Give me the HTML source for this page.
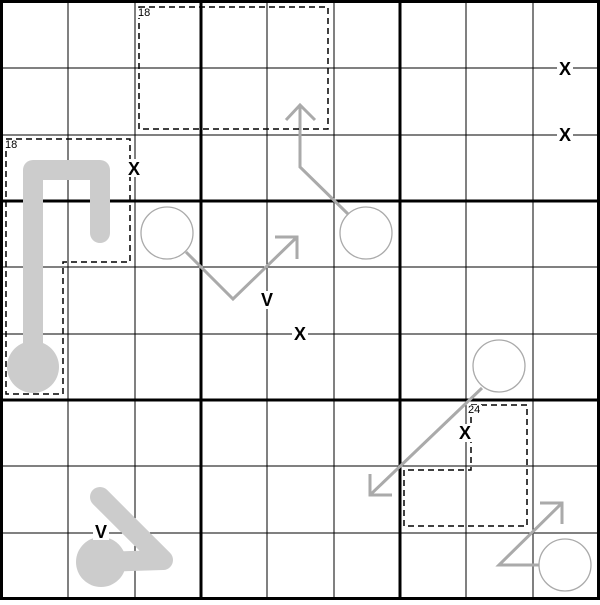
<!DOCTYPE html>
<html><head><style>body{margin:0;background:#fff}</style></head><body>
<svg width="600" height="600" xmlns="http://www.w3.org/2000/svg" font-family="Liberation Sans, sans-serif">
<rect width="600" height="600" fill="#fff"/>
<g stroke="#000" stroke-width="1">
<line x1="68" y1="0" x2="68" y2="600"/><line x1="135" y1="0" x2="135" y2="600"/>
<line x1="267" y1="0" x2="267" y2="600"/><line x1="334" y1="0" x2="334" y2="600"/>
<line x1="466" y1="0" x2="466" y2="600"/><line x1="533" y1="0" x2="533" y2="600"/>
<line y1="68" x1="0" y2="68" x2="600"/><line y1="135" x1="0" y2="135" x2="600"/>
<line y1="267" x1="0" y2="267" x2="600"/><line y1="334" x1="0" y2="334" x2="600"/>
<line y1="466" x1="0" y2="466" x2="600"/><line y1="533" x1="0" y2="533" x2="600"/>
</g>
<g stroke="#000" stroke-width="3" fill="none">
<line x1="201" y1="0" x2="201" y2="600"/><line x1="400" y1="0" x2="400" y2="600"/>
<line y1="201" x1="0" y2="201" x2="600"/><line y1="400" x1="0" y2="400" x2="600"/>
<rect x="1.5" y="1.5" width="597" height="597"/>
</g>
<g stroke="#ccc" stroke-width="20" fill="none" stroke-linecap="round" stroke-linejoin="round">
<polyline points="33,367 33,170 100,170 100,233"/>
<polyline points="100,497 163,560 100,562"/>
</g>
<circle cx="33" cy="367" r="26" fill="#ccc"/>
<circle cx="101" cy="562" r="25" fill="#ccc"/>
<g stroke="#aaa" stroke-width="3" fill="none">
<polyline points="186,252 233,299 297,237"/><polyline points="275,237 297,237 297,259"/>
<polyline points="348,214 300,167 300,105"/><polyline points="286,120 300,105 315,120"/>
<polyline points="482,388 370,495"/><polyline points="370,474 370,495 392,495"/>
<polyline points="539,565 499,565 562,503"/><polyline points="540,503 562,503 562,524"/>
</g>
<g stroke="#aaa" stroke-width="1.3" fill="#fff">
<circle cx="167" cy="233" r="26"/><circle cx="366" cy="233" r="26"/>
<circle cx="499" cy="366" r="26"/><circle cx="565" cy="565" r="26"/>
</g>
<g stroke="#000" stroke-width="1.5" fill="none" stroke-dasharray="6,4">
<rect x="139" y="7" width="189" height="122"/>
<polygon points="6,139 130,139 130,262 63,262 63,394 6,394"/>
<polygon points="471,405 527,405 527,526 404,526 404,470 471,470"/>
</g>
<g fill="#fff">
<rect x="137" y="8" width="15" height="10"/><rect x="4" y="140" width="15" height="10"/><rect x="467" y="405" width="15" height="10"/>
<rect x="557" y="60" width="16" height="18"/><rect x="557" y="126" width="16" height="18"/><rect x="126" y="159" width="16" height="18"/>
<rect x="292" y="325" width="16" height="18"/><rect x="457" y="424" width="16" height="18"/>
<rect x="259" y="291" width="16" height="18"/><rect x="93" y="522" width="16" height="18"/>
</g>
<g font-size="11" fill="#000">
<text x="138" y="16">18</text><text x="5" y="148">18</text><text x="468" y="413">24</text>
</g>
<g font-size="18" font-weight="bold" fill="#000" text-anchor="middle">
<text x="565" y="75">X</text><text x="565" y="141">X</text><text x="134" y="175">X</text>
<text x="300" y="340">X</text><text x="465" y="439">X</text>
<text x="267" y="306">V</text><text x="101" y="538">V</text>
</g>
</svg>
</body></html>
